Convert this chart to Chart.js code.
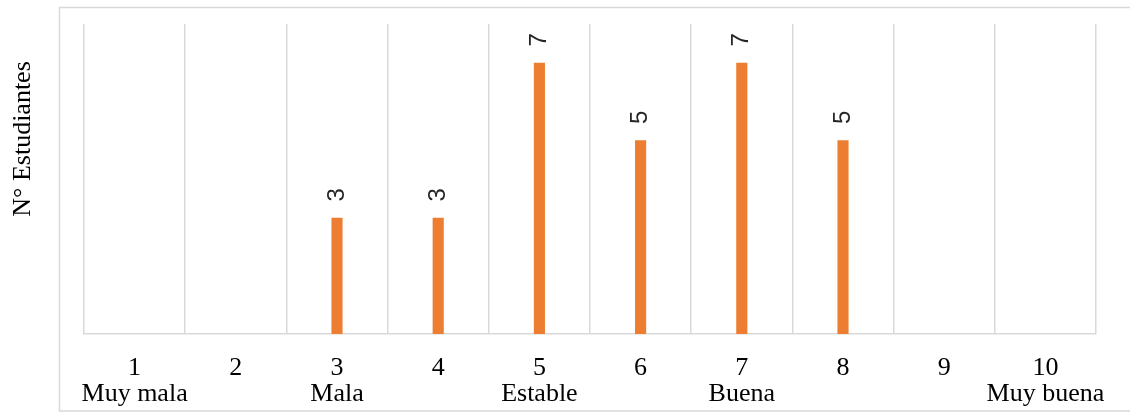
<!DOCTYPE html>
<html>
<head>
<meta charset="utf-8">
<script src="https://cdn.jsdelivr.net/npm/chart.js@4"></script>
<style>
  body { margin: 0; background: #fff; }
  .chart-box { position: relative; width: 1130px; height: 412px; }
</style>
</head>
<body>
<div class="chart-box"><canvas id="barChart"></canvas></div>
<script>
// Datos
const scores = ["1", "2", "3", "4", "5", "6", "7", "8", "9", "10"];
const ratings = ["Muy mala", "", "Mala", "", "Estable", "", "Buena", "", "", "Muy buena"];
const students = [0, 0, 3, 3, 7, 5, 7, 5, 0, 0];
const yTitle = "N° Estudiantes";

const gridColor = "#d9d9d9";
const barColor = "#ed7d31";

// frame around the plot + rotated axis title
const frameAndTitle = {
    id: "frameAndTitle",
    beforeDraw(chart) {
        const ctx = chart.ctx;
        ctx.save();
        ctx.strokeStyle = gridColor;
        ctx.lineWidth = 1.5;
        ctx.strokeRect(59.5, 7.5, 1100, 403.5);
        ctx.restore();
    },
    afterDraw(chart) {
        const ctx = chart.ctx;
        ctx.save();
        ctx.translate(23, 139);
        ctx.rotate(-Math.PI / 2);
        ctx.font = "26px 'Liberation Serif'";
        ctx.fillStyle = "#000";
        ctx.textAlign = "center";
        ctx.textBaseline = "middle";
        ctx.fillText(yTitle, 0, 0);
        ctx.restore();
    },
};

// value labels, rotated, above each bar
const barLabels = {
    id: "barLabels",
    afterDatasetsDraw(chart) {
        const ctx = chart.ctx;
        const meta = chart.getDatasetMeta(0);
        ctx.save();
        ctx.font = "24px 'Liberation Sans'";
        ctx.fillStyle = "#262626";
        ctx.textAlign = "center";
        ctx.textBaseline = "middle";
        meta.data.forEach((bar, i) => {
            if(!students[i]) return;
            ctx.save();
            ctx.translate(bar.x, bar.y - 23);
            ctx.rotate(-Math.PI / 2);
            ctx.fillText(String(students[i]), 0, 0);
            ctx.restore();
        });
        ctx.restore();
    },
};

new Chart(document.getElementById("barChart"), {
    type: "bar",
    data: {
        labels: scores.map((s, i) => [s, ratings[i]]),
        datasets: [
            {
                data: students,
                backgroundColor: barColor,
                categoryPercentage: 1,
                barPercentage: 0.11,
            },
        ],
    },
    options: {
        responsive: true,
        maintainAspectRatio: false,
        animation: false,
        layout: {
            padding: { left: 84, right: 34, top: 24, bottom: 0 },
        },
        plugins: {
            legend: { display: false },
            tooltip: { enabled: false },
        },
        scales: {
            x: {
                afterFit(scale) {
                    scale.height = 78; // keeps axis line at y≈334
                },
                grid: {
                    color: gridColor,
                    lineWidth: 1.5,
                    drawTicks: false,
                    offset: true,
                },
                border: { color: gridColor, width: 1.5 },
                ticks: {
                    color: "#000",
                    padding: 21,
                    maxRotation: 0,
                    autoSkip: false,
                    font: { family: "'Liberation Serif'", size: 26, lineHeight: 1 },
                },
            },
            y: {
                display: false,
                min: 0,
                max: 8,
            },
        },
    },
    plugins: [frameAndTitle, barLabels],
});
</script>
</body>
</html>
